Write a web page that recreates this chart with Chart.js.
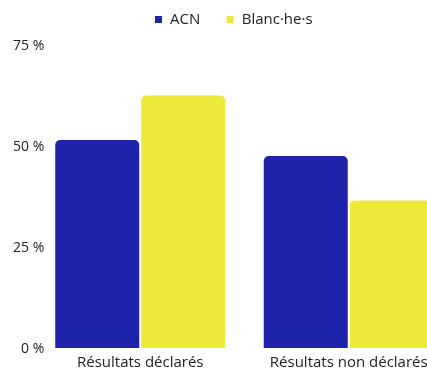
<!DOCTYPE html>
<html>
<head>
<meta charset="utf-8">
<script src="https://cdn.jsdelivr.net/npm/chart.js@4/dist/chart.umd.min.js"></script>
<style>
  html, body { margin: 0; padding: 0; background: #fff; overflow: hidden; }
  #wrap { width: 467px; height: 368px; }
</style>
</head>
<body>
<div id="wrap"><canvas id="chart"></canvas></div>
<script>
// données
const categories = ['Résultats déclarés', 'Résultats non déclarés'];
const acn = [52, 48];
const blancs = [63, 37];
const seriesNames = ['ACN', 'Blanc·he·s'];
const yTicks = [0, 25, 50, 75];

const family = '"Open Sans", Lato, sans-serif';

// espace sous la légende
const legendGap = {
  id: 'legendGap',
  beforeInit(chart) {
    const fit = chart.legend.fit;
    chart.legend.fit = function () {
      fit.bind(chart.legend)();
      this.height += 9;
    };
  }
};

new Chart(document.getElementById('chart'), {
  type: 'bar',
  data: {
    labels: categories,
    datasets: [
      { label: seriesNames[0], data: acn, backgroundColor: '#1f22aa', borderColor: '#ffffff', borderWidth: 1, borderRadius: { topLeft: 6, topRight: 6 }, borderSkipped: false },
      { label: seriesNames[1], data: blancs, backgroundColor: '#ece93a', borderColor: '#ffffff', borderWidth: 1, borderRadius: { topLeft: 6, topRight: 6 }, borderSkipped: false }
    ]
  },
  options: {
    responsive: true,
    maintainAspectRatio: false,
    animation: false,
    layout: { padding: { top: -14, left: 14, right: 14, bottom: -9 } },
    datasets: { bar: { categoryPercentage: 0.825, barPercentage: 1 } },
    plugins: {
      tooltip: { enabled: false },
      legend: {
        position: 'top',
        labels: { boxWidth: 8, boxHeight: 8, padding: 26, color: '#222', font: { family, size: 15 } }
      }
    },
    scales: {
      x: {
        grid: { display: false, drawTicks: false },
        border: { display: false },
        ticks: { color: '#222', font: { family, size: 15 }, padding: 5, maxRotation: 0 }
      },
      y: {
        min: 0, max: 75,
        afterBuildTicks: s => { s.ticks = yTicks.map(v => ({ value: v })); },
        afterFit: s => { s.width = 22; },
        grid: { display: false, drawTicks: false },
        border: { display: false },
        ticks: { color: '#222', font: { family, size: 14 }, mirror: true, crossAlign: 'far', padding: -23, callback: v => v + ' %' }
      }
    }
  },
  plugins: [legendGap]
});
</script>
</body>
</html>
